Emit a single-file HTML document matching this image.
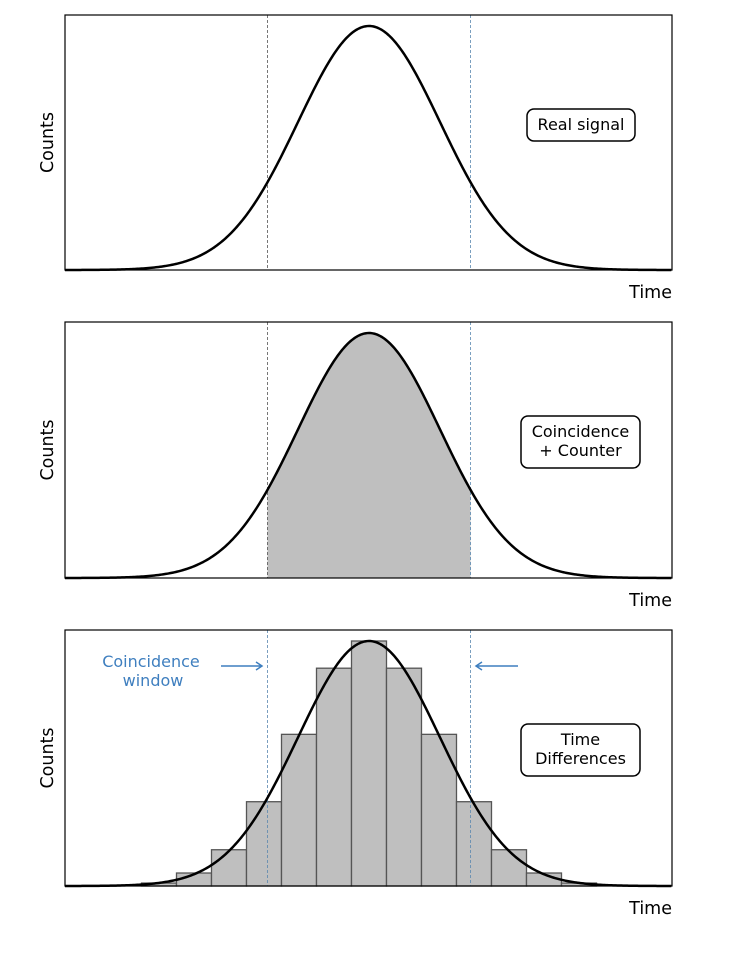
<!DOCTYPE html>
<html><head><meta charset="utf-8"><style>
body{margin:0;background:#fff}
svg text{font-family:"DejaVu Sans","Liberation Sans",sans-serif}
</style></head><body>
<svg id="fig" width="739" height="952" viewBox="0 0 739 952" xmlns="http://www.w3.org/2000/svg"></svg>
<script>
const binCenters=[-6,-5,-4,-3,-2,-1,0,1,2,3,4,5,6];
const binCounts=[0.012,0.053,0.148,0.344,0.619,0.889,1.0,0.889,0.619,0.344,0.148,0.053,0.012];
const sigma=1;
const windowHalf=1.43;
const panelTitles=["Real signal","Coincidence|+ Counter","Time|Differences"];

const NS="http://www.w3.org/2000/svg";
const svg=document.getElementById('fig');
function mk(tag,attrs,parent){const e=document.createElementNS(NS,tag);for(const k in attrs)e.setAttribute(k,attrs[k]);(parent||svg).appendChild(e);return e;}
const X0=65,X1=672,CX=369;
const binW=35/71;
function sx(v){return CX+v*71;}
const panels=[{top:15,bot:270},{top:322,bot:578},{top:630,bot:886}];
const names=["real-signal","coincidence-counter","time-differences"];
panels.forEach((p,i)=>{
  const g=mk('g',{});
  
  
  const peakY=p.top+11, H=p.bot-peakY;
  const sy=v=>p.bot-v*H;
  const gauss=t=>Math.exp(-t*t/(2*sigma*sigma));
  const xmin=(X0-CX)/71,xmax=(X1-CX)/71;
  if(i===1){
    let d=`M${sx(-windowHalf)},${p.bot}`;
    for(let t=-windowHalf;t<=windowHalf+1e-9;t+=0.02)d+=`L${sx(t).toFixed(2)},${sy(gauss(t)).toFixed(2)}`;
    d+=`L${sx(windowHalf)},${p.bot}Z`;
    const f=mk('path',{d:d,fill:'#bfbfbf'},g);
    
    
  }
  if(i===2){
    binCenters.forEach((c,j)=>{
      const x=sx((c-0.5)*binW), w=35;
      const r=mk('rect',{x:x,y:sy(binCounts[j]),width:w,height:binCounts[j]*H,fill:'#bfbfbf',stroke:'#555','stroke-width':1.3},g);
      
      
    });
  }
  [-windowHalf,windowHalf].forEach((t,k)=>{
    const l=mk('line',{x1:sx(t),x2:sx(t),y1:p.top,y2:p.bot,stroke:(k===0&&i<2)?'#555':'#5a88b0','stroke-width':0.8,'stroke-dasharray':'3,2'},g);
    
    
  });
  let d='';
  for(let t=xmin;t<=xmax+1e-9;t+=0.02)d+=(d?'L':'M')+sx(t).toFixed(2)+','+sy(gauss(t)).toFixed(2);
  const c=mk('path',{d:d,fill:'none',stroke:'#000','stroke-width':2.5},g);
  
  
  const fr=mk('rect',{x:X0,y:p.top,width:X1-X0,height:p.bot-p.top,fill:'none',stroke:'#000','stroke-width':1.2},g);
  
  
  const yl=mk('text',{x:0,y:0,transform:`translate(53,${(p.top+p.bot)/2}) rotate(-90)`,'text-anchor':'middle','font-size':17.5},g);
  yl.textContent='Counts';
  
  
  const xl=mk('text',{x:672,y:p.bot+28,'text-anchor':'end','font-size':17.5},g);
  xl.textContent='Time';
  
  
  const lines=panelTitles[i].split('|');
  const bx=i===0?527:521, bw=i===0?108:119, bh=i===0?32:52, by=i===0?109:p.top+94;
  const b=mk('rect',{x:bx,y:by,width:bw,height:bh,rx:7,fill:'#fff',stroke:'#000','stroke-width':1.5},g);
  
  
  lines.forEach((s,k)=>{
    const t=mk('text',{x:bx+bw/2,y:by+(lines.length===1?21:21+k*19),'text-anchor':'middle','font-size':16},g);
    t.textContent=s;
    
    
  });
});
const blue='#3f7fbf';
const a1=mk('text',{x:151,y:667,'text-anchor':'middle','font-size':16,fill:blue});a1.textContent='Coincidence';


const a2=mk('text',{x:153,y:686,'text-anchor':'middle','font-size':16,fill:blue});a2.textContent='window';


const ar1=mk('path',{d:'M221,666 L262,666 M256,662 L262,666 L256,670',fill:'none',stroke:blue,'stroke-width':1.5});


const ar2=mk('path',{d:'M518,666 L476,666 M482,662 L476,666 L482,670',fill:'none',stroke:blue,'stroke-width':1.5});


</script>
</body></html>
